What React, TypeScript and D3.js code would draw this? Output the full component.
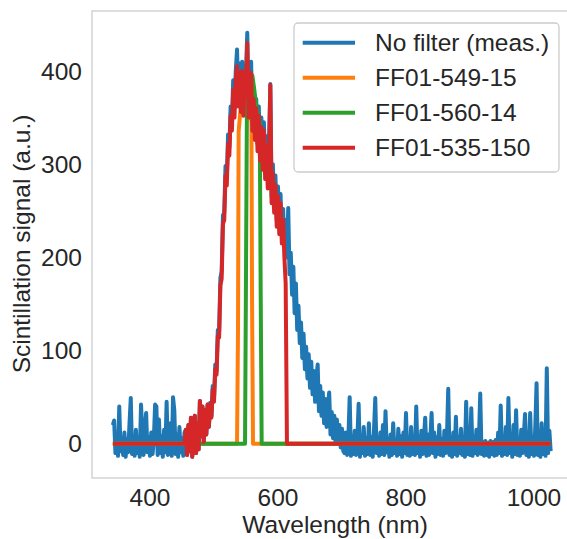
import React, { useEffect, useRef } from "react";
import * as d3 from "d3";

// measured spectrum, sampled every 2 nm starting at 342 nm
const wlStart = 342;
const wlStep = 2;
const noFilter = [
  // 342 - 454
  20, 25, -10, 4, -13, 40, -8, 6, -12, 12,
  -14, 5, -9, 22, 49, -11, 8, -13, 15, -10,
  6, -14, 42, 10, -12, 18, 33, -9, 7, -13,
  12, -11, 4, 42, 40, -12, 26, -10, 8, -14,
  15, -9, 45, -12, 6, 22, -13, 50, 36, -11,
  10, -14, 18, -9, 6, -13, 12,
  // 456 - 702
  15, -12, 20, -8, 28, -14, 12, 30, -10, 22,
  -6, 46, 8, 40, 2, 36, 10, 42, 18, 44,
  30, 62, 48, 85, 78, 122, 120, 178, 185, 245,
  248, 298, 285, 332, 318, 362, 345, 390, 360, 400,
  423, 372, 408, 365, 410, 362, 405, 398, 441, 358,
  395, 410, 345, 380, 335, 370, 322, 362, 312, 350,
  302, 345, 292, 330, 282, 318, 386, 265, 300, 255,
  288, 240, 276, 232, 268, 222, 252, 210, 240, 200,
  253, 182, 205, 160, 190, 140, 172, 122, 148, 108,
  130, 92, 118, 80, 104, 70, 96, 60, 88, 53,
  78, 45, 70, 85, 35, 62, 30, 55, 22, 48,
  18, 42, 55, 10, 34, 6, 30, 2, 26, 0,
  20, -4, 16, -8,
  // 704 - 1026
  -10, 12, -12, 6, 50, -13, 8, -11, 14, -12,
  5, 43, -14, 9, -10, 18, -13, 6, -11, 22,
  -12, 7, -14, 15, 49, -10, 5, -13, 12, -11,
  20, -12, 35, -9, 6, -14, 10, -12, 22, -10,
  4, -13, 16, -11, 8, -14, 12, -10, 33, -12,
  6, -13, 18, -11, 5, -12, 40, -10, 8, -14,
  14, -11, 6, 28, -13, 10, -12, 5, 33, -10,
  12, -14, 7, -11, 20, -12, 5, -13, 14, -10,
  8, 59, -12, 6, -14, 12, -11, 29, -13, 7,
  -10, 16, -12, 5, -14, 45, -11, 10, -12, 38,
  -13, 8, -10, 15, -12, 6, 54, -11, 2, -13,
  3, -12, 1, -14, 3, -11, 2, -13, 4, -12,
  12, -10, 41, -13, 8, -11, 18, -12, 49, -10,
  10, -14, 20, -11, 36, -12, 6, -13, 15, -10,
  8, 32, -12, 12, -14, 33, -11, 7, -13, 18,
  65, -12, 10, -14, 22, -11, 8, -13, 81, -10,
  14, -8,
];

// FF01-535-150: zero outside the pass band, pass band sampled every 2 nm from 456 nm
const redZeroEdges = [342, 454, 614, 1026];
const redPassStart = 456;
const redPass = [
  15, -12, 20, -8, 28, -14, 12, 30, -10, 22,
  -6, 46, 8, 40, 2, 36, 10, 42, 18, 42,
  28, 58, 45, 80, 74, 116, 114, 170, 177, 236,
  240, 288, 277, 322, 309, 352, 336, 380, 350, 390,
  405, 362, 398, 356, 400, 352, 395, 388, 430, 350,
  385, 398, 336, 370, 326, 360, 314, 352, 304, 340,
  294, 336, 284, 320, 274, 308, 385, 258, 290, 248,
  278, 233, 266, 225, 258, 215, 240, 200, 172,
];

// narrow band filters
const orangeWl = [342, 536, 537.5, 538.5, 541, 544, 547, 550, 553, 556, 558.5, 559.5, 561, 1026];
const orangeVal = [0, 0, 120, 335, 355, 368, 372, 370, 365, 358, 345, 150, 0, 0];
const greenWl = [342, 548.5, 550, 551.5, 554, 557, 560, 563, 566, 569, 571.5, 573, 574.5, 1026];
const greenVal = [0, 0, 180, 365, 380, 390, 395, 380, 362, 352, 345, 160, 0, 0];

const seriesNames = ["No filter (meas.)", "FF01-549-15", "FF01-560-14", "FF01-535-150"];
const seriesColors = ["#1f77b4", "#ff7f0e", "#2ca02c", "#d62728"];
const xTicks = [400, 600, 800, 1000];
const yTicks = [0, 100, 200, 300, 400];

export default function App() {
  const svgRef = useRef<SVGSVGElement>(null);
  const width = 567;
  const height = 539;

  useEffect(() => {
    const svg = d3.select(svgRef.current);
    svg.selectAll("*").remove();

    const left = 92, right = 572.4, top = 11, bottom = 478;
    const font = "'Liberation Sans', Arial, sans-serif";
    const textColor = "#262626";

    const x = d3.scaleLinear().domain([309.4, 1060]).range([left, right]);
    const y = d3.scaleLinear().domain([-36.75, 464.4]).range([bottom, top]);

    const blue: [number, number][] = noFilter.map((v, i) => [wlStart + i * wlStep, v]);
    const red: [number, number][] = [
      [redZeroEdges[0], 0],
      [redZeroEdges[1], 0],
      ...redPass.map((v, i) => [redPassStart + i * wlStep, v] as [number, number]),
      [redZeroEdges[2], 0],
      [redZeroEdges[3], 0],
    ];
    const orange: [number, number][] = orangeWl.map((w, i) => [w, orangeVal[i]]);
    const green: [number, number][] = greenWl.map((w, i) => [w, greenVal[i]]);

    const line = d3.line<[number, number]>()
      .x(d => x(d[0]))
      .y(d => y(d[1]));

    // data lines
    [blue, orange, green, red].forEach((pts, i) => {
      svg.append("path")
        .attr("d", line(pts))
        .attr("fill", "none")
        .attr("stroke", seriesColors[i])
        .attr("stroke-width", 4)
        .attr("stroke-linejoin", "round");
    });

    // spines
    svg.append("rect")
      .attr("x", left)
      .attr("y", top)
      .attr("width", right - left)
      .attr("height", bottom - top)
      .attr("fill", "none")
      .attr("stroke", "#cccccc")
      .attr("stroke-width", 1.3);

    // tick labels
    svg.selectAll(".xt")
      .data(xTicks)
      .enter()
      .append("text")
      .attr("x", d => x(d))
      .attr("y", 506)
      .attr("text-anchor", "middle")
      .style("font-family", font)
      .style("font-size", "24.5px")
      .attr("fill", textColor)
      .text(d => d);

    svg.selectAll(".yt")
      .data(yTicks)
      .enter()
      .append("text")
      .attr("x", 82)
      .attr("y", d => y(d) + 8.7)
      .attr("text-anchor", "end")
      .style("font-family", font)
      .style("font-size", "24.5px")
      .attr("fill", textColor)
      .text(d => d);

    // axis labels
    svg.append("text")
      .attr("x", 335)
      .attr("y", 533)
      .attr("text-anchor", "middle")
      .style("font-family", font)
      .style("font-size", "24.5px")
      .attr("fill", textColor)
      .text("Wavelength (nm)");

    svg.append("text")
      .attr("transform", "translate(30,244) rotate(-90)")
      .attr("text-anchor", "middle")
      .style("font-family", font)
      .style("font-size", "24.5px")
      .attr("fill", textColor)
      .text("Scintillation signal (a.u.)");

    // legend
    const lg = svg.append("g");
    lg.append("rect")
      .attr("x", 294)
      .attr("y", 23)
      .attr("width", 265)
      .attr("height", 149)
      .attr("rx", 4)
      .attr("fill", "white")
      .attr("fill-opacity", 0.8)
      .attr("stroke", "#cccccc")
      .attr("stroke-width", 1.3);

    seriesNames.forEach((name, i) => {
      const ly = 42.7 + i * 35;
      lg.append("line")
        .attr("x1", 302.7)
        .attr("x2", 355)
        .attr("y1", ly)
        .attr("y2", ly)
        .attr("stroke", seriesColors[i])
        .attr("stroke-width", 4);
      lg.append("text")
        .attr("x", 375)
        .attr("y", ly + 8.7)
        .style("font-family", font)
        .style("font-size", "24.5px")
        .attr("fill", textColor)
        .text(name);
    });
  }, []);

  return (
    <svg
      ref={svgRef}
      width={width}
      height={height}
      style={{ position: "absolute", left: 0, top: 0, background: "white" }}
    />
  );
}
